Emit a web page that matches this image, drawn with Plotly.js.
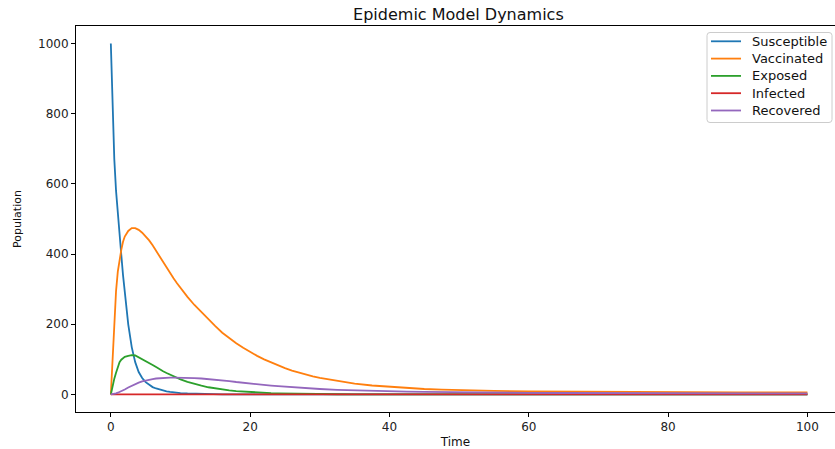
<!DOCTYPE html>
<html>
<head>
<meta charset="utf-8">
<script src="https://cdn.plot.ly/plotly-3.0.1.min.js"></script>
<style>html,body{margin:0;padding:0;background:#fff;}#chart{width:835px;height:449px;}</style>
</head>
<body>
<div id="chart"></div>
<script>
const time = [0, 0.25, 0.5, 0.75, 1, 1.25, 1.5, 1.75, 2,
  2.5, 3, 3.5, 4, 4.5, 5, 5.5, 6, 6.5, 7, 7.5, 8, 8.5, 9, 9.5, 10,
  11, 12, 13, 14, 15, 16, 17, 18, 19, 20, 21, 22, 23, 24, 25, 26, 27, 28, 29, 30,
  32.5, 35, 37.5, 40, 42.5, 45, 47.5, 50,
  55, 60, 65, 70, 75, 80, 85, 90, 95, 100];
const susceptible = [1000, 820, 670, 580, 510, 455, 398, 340, 288,
  200, 135, 92, 64, 47, 35, 27, 21, 17, 14, 11, 9, 7.5, 6, 5, 4,
  2.8, 2, 1.4, 1, 0.7, 0.5, 0.35, 0.25, 0.2, 0.1, 0, 0, 0, 0, 0, 0, 0, 0, 0, 0,
  0, 0, 0, 0, 0, 0, 0, 0,
  0, 0, 0, 0, 0, 0, 0, 0, 0, 0];
const vaccinated = [0, 110, 205, 295, 350, 388, 412, 435, 450,
  466, 474, 474, 469, 461, 451, 439, 425, 409, 393, 376, 362, 346, 331, 317, 303,
  278, 255, 234, 214, 195, 176, 160, 146, 133, 121, 110, 100, 91, 83, 75, 68, 62, 56.5, 51.5, 47,
  38, 31, 25.5, 21.5, 18, 15.5, 13.5, 12,
  10, 8.8, 8, 7.4, 7, 6.6, 6.3, 6, 5.8, 5.6];
const exposed = [0, 25, 45, 62, 78, 92, 99, 103, 107,
  110, 112, 111, 106, 101, 95, 89, 84, 78, 71, 66, 61, 56, 51, 47, 43,
  36, 30, 25, 20.5, 17, 14, 11.5, 9.5, 8, 6.5, 5.5, 4.6, 3.8, 3.2, 2.7, 2.2, 1.8, 1.5, 1.2, 1,
  0.6, 0.4, 0.2, 0.1, 0, 0, 0, 0,
  0, 0, 0, 0, 0, 0, 0, 0, 0, 0];
const infected = [0, 0, 0, 0, 0, 0, 0, 0, 0,
  0, 0, 0, 0, 0, 0, 0, 0, 0, 0, 0, 0, 0, 0, 0, 0,
  0, 0, 0, 0, 0, 0, 0, 0, 0, 0, 0, 0, 0, 0, 0, 0, 0, 0, 0, 0,
  0, 0, 0, 0, 0, 0, 0, 0,
  0, 0, 0, 0, 0, 0, 0, 0, 0, 0];
const recovered = [0, 0.5, 1.5, 3, 5, 7, 9, 11.5, 14,
  20, 25, 29.5, 33.5, 37, 40, 42.5, 44, 45.5, 46.5, 47.2, 47.7, 48, 48, 48, 47.8,
  47.2, 46.4, 45.4, 44, 42, 40, 38, 35.5, 33, 31, 29, 27, 25.2, 23.5, 22, 20.5, 19, 17.8, 16.6, 15.5,
  13.2, 11.4, 10, 9, 8.1, 7.3, 6.6, 6,
  5.2, 4.6, 4.2, 3.9, 3.7, 3.5, 3.4, 3.3, 3.2, 3.1];

const seriesNames = ['Susceptible', 'Vaccinated', 'Exposed', 'Infected', 'Recovered'];
const seriesValues = [susceptible, vaccinated, exposed, infected, recovered];
const colors = ['#1f77b4', '#ff7f0e', '#2ca02c', '#d62728', '#9467bd'];
const xTicks = [0, 20, 40, 60, 80, 100];
const yTicks = [0, 200, 400, 600, 800, 1000];

// plot-area geometry in pixels (for the hand-placed matplotlib-style legend)
const W = 835, H = 449, ML = 76, MR = 0, MT = 26, MB = 37;
const PW = W - ML - MR, PH = H - MT - MB;
const px = p => (p - ML) / PW;
const py = p => (H - MB - p) / PH;

const traces = seriesNames.map((n, i) => ({
  x: time, y: seriesValues[i], name: n, type: 'scatter', mode: 'lines',
  line: {color: colors[i], width: 1.8}, showlegend: false
}));

// legend (matplotlib style: compact, rounded light-grey frame)
const legL = 707, legR = 832, legT = 32.5, legB = 122.5, rr = 3;
const legendPath = `M ${px(legL + rr)},${py(legT)} L ${px(legR - rr)},${py(legT)} Q ${px(legR)},${py(legT)} ${px(legR)},${py(legT + rr)} ` +
  `L ${px(legR)},${py(legB - rr)} Q ${px(legR)},${py(legB)} ${px(legR - rr)},${py(legB)} ` +
  `L ${px(legL + rr)},${py(legB)} Q ${px(legL)},${py(legB)} ${px(legL)},${py(legB - rr)} ` +
  `L ${px(legL)},${py(legT + rr)} Q ${px(legL)},${py(legT)} ${px(legL + rr)},${py(legT)} Z`;
const shapes = [{type: 'path', xref: 'paper', yref: 'paper', path: legendPath,
  fillcolor: 'rgba(255,255,255,0.8)', line: {color: '#cccccc', width: 1}, layer: 'above'}];
const annotations = [];
seriesNames.forEach((n, i) => {
  const yy = 41.3 + i * 17.3;
  shapes.push({type: 'line', xref: 'paper', yref: 'paper', x0: px(711), x1: px(741), y0: py(yy), y1: py(yy),
    line: {color: colors[i], width: 1.8}, layer: 'above'});
  annotations.push({xref: 'paper', yref: 'paper', x: px(749.5), y: py(yy), xanchor: 'left', yanchor: 'middle',
    text: n, showarrow: false, font: {family: 'DejaVu Sans', size: 13, color: '#111'}});
});

const axisCommon = {
  showline: true, linecolor: '#000', linewidth: 1, mirror: true,
  ticks: 'outside', ticklen: 4, tickcolor: '#000', tickwidth: 1,
  showgrid: false, zeroline: false,
  tickfont: {family: 'DejaVu Sans', size: 12, color: '#222'}
};

const layout = {
  width: W, height: H,
  margin: {l: ML, r: MR, t: MT, b: MB},
  paper_bgcolor: '#fff', plot_bgcolor: '#fff',
  title: {text: 'Epidemic Model Dynamics', x: 0.549, xanchor: 'center', y: 0.968, yanchor: 'middle',
          font: {family: 'DejaVu Sans', size: 16, color: '#111'}},
  xaxis: Object.assign({}, axisCommon, {range: [-5, 103.96], tickvals: xTicks, ticktext: xTicks.map(String),
          title: {text: 'Time', standoff: 6, font: {family: 'DejaVu Sans', size: 12, color: '#111'}}}),
  yaxis: Object.assign({}, axisCommon, {range: [-50, 1050], tickvals: yTicks, ticktext: yTicks.map(String),
          title: {text: 'Population', standoff: 14, font: {family: 'DejaVu Sans', size: 11, color: '#111'}}}),
  shapes: shapes,
  annotations: annotations,
  showlegend: false
};

Plotly.newPlot('chart', traces, layout, {staticPlot: true, displayModeBar: false});
</script>
</body>
</html>
